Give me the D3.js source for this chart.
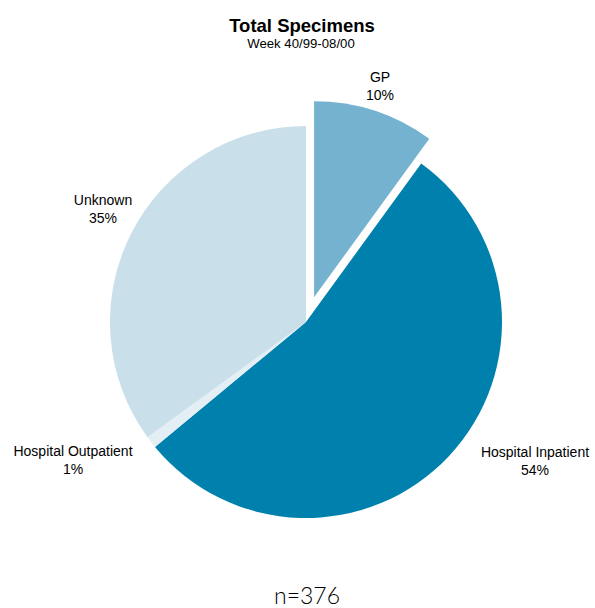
<!DOCTYPE html>
<html>
<head>
<meta charset="utf-8">
<script src="https://cdn.jsdelivr.net/npm/d3@7"></script>
<style>
  html, body { margin: 0; padding: 0; background: #ffffff; }
  svg { display: block; }
  text { font-family: "Liberation Sans", Arial, sans-serif; fill: #000; }
</style>
</head>
<body>
<svg id="chart" width="595" height="608"></svg>
<script>
// Specimen sources (percent of total)
const categories = ["GP", "Hospital Inpatient", "Hospital Outpatient", "Unknown"];
const values = [10, 54, 1, 35];
const colors = ["#74b2cf", "#0080ad", "#e4eef5", "#c9dfea"];
const totalN = 376;

const svg = d3.select("#chart");
const cx = 306, cy = 322, radius = 196;

// Title block
svg.append("text").attr("x", 302).attr("y", 32).attr("text-anchor", "middle")
  .style("font-weight", "bold").style("font-size", "18.5px").text("Total Specimens");
svg.append("text").attr("x", 301).attr("y", 48).attr("text-anchor", "middle")
  .style("font-size", "13.2px").text("Week 40/99-08/00");

const data = categories.map((c, i) => ({ category: c, value: values[i], color: colors[i] }));

const pie = d3.pie().sort(null).value(d => d.value);
const arc = d3.arc().innerRadius(0).outerRadius(radius);
const arcs = pie(data);

// Slices pulled out from the centre
const explode = { "GP": 26 };

const g = svg.append("g").attr("transform", `translate(${cx},${cy})`);

g.selectAll("path.slice")
  .data(arcs)
  .join("path")
  .attr("class", "slice")
  .attr("fill", d => d.data.color)
  .attr("d", arc)
  .attr("transform", d => {
    const off = explode[d.data.category] || 0;
    const mid = (d.startAngle + d.endAngle) / 2;
    return `translate(${off * Math.sin(mid)},${-off * Math.cos(mid)})`;
  });

// Label anchors (slice label position relative to the pie centre)
const labelPos = {
  "GP": [74, -240],
  "Hospital Inpatient": [229, 135],
  "Hospital Outpatient": [-233, 134],
  "Unknown": [-203, -117]
};

const labels = g.selectAll("text.label")
  .data(arcs)
  .join("text")
  .attr("class", "label")
  .attr("text-anchor", "middle")
  .style("font-size", "14px")
  .attr("transform", d => `translate(${labelPos[d.data.category][0]},${labelPos[d.data.category][1]})`);

labels.append("tspan").attr("x", 0).attr("dy", 0).text(d => d.data.category);
labels.append("tspan").attr("x", 0).attr("dy", 17.5).text(d => d3.format(".0f")(d.data.value) + "%");

// Sample size
svg.append("text").attr("x", 307).attr("y", 604).attr("text-anchor", "middle")
  .style("font-family", "Lato, sans-serif").style("font-weight", "300")
  .style("font-size", "23px").text("n=" + totalN);
</script>
</body>
</html>
